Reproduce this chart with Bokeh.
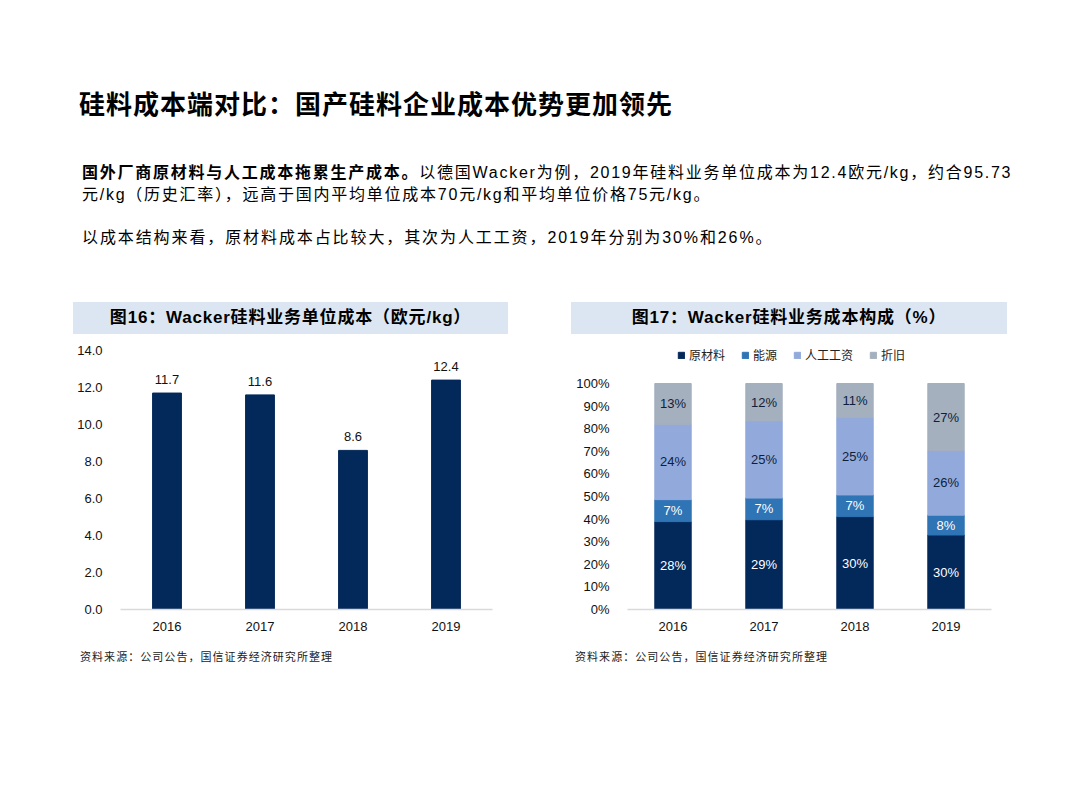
from bokeh.plotting import figure
from bokeh.models import (ColumnDataSource, Div, Legend, LegendItem, FactorRange,
                          Range1d, NumeralTickFormatter, FixedTicker)
from bokeh.layouts import column, row
from bokeh.embed import file_html
from bokeh.resources import INLINE
from bokeh.core.properties import value

# ---------------- data ----------------
years = ["2016", "2017", "2018", "2019"]
unit_cost = [11.7, 11.6, 8.6, 12.4]
cost_labels = ["11.7", "11.6", "8.6", "12.4"]
left_ticks = [0, 2, 4, 6, 8, 10, 12, 14]

series_names = ["原材料", "能源", "人工工资", "折旧"]
raw_material = [28, 29, 30, 30]
energy = [7, 7, 7, 8]
labor = [24, 25, 25, 26]
depreciation = [13, 12, 11, 27]
pct_ticks = [0, 0.1, 0.2, 0.3, 0.4, 0.5, 0.6, 0.7, 0.8, 0.9, 1.0]

title_text = "硅料成本端对比：国产硅料企业成本优势更加领先"
para1_bold = "国外厂商原材料与人工成本拖累生产成本。"
para1_rest_a = "以德国Wacker为例，2019年硅料业务单位成本为12.4欧元/kg，约合95.73"
para1_rest_b = "元/kg（历史汇率），远高于国内平均单位成本70元/kg和平均单位价格75元/kg。"
para2 = "以成本结构来看，原材料成本占比较大，其次为人工工资，2019年分别为30%和26%。"
chart1_title = "图16：Wacker硅料业务单位成本（欧元/kg）"
chart2_title = "图17：Wacker硅料业务成本构成（%）"
source_note = "资料来源：公司公告，国信证券经济研究所整理"

# ---------------- styles ----------------
NAVY = "#03285a"
ENERGY = "#2f74b5"
LABOR = "#92a9db"
DEPR = "#a4b0be"
BAND = "#dce6f2"
LATIN = "Liberation Sans"
FONT_STACK = "'Liberation Sans','Noto Sans CJK SC',sans-serif"

# ---------------- header ----------------
header_html = f"""
<div style="position:relative;width:1064px;height:294px;font-family:{FONT_STACK};color:#000;">
  <div style="position:absolute;left:71px;top:79px;font-size:26px;line-height:32px;font-weight:bold;
       font-family:'Noto Sans CJK SC',sans-serif;letter-spacing:1px;white-space:nowrap;">{title_text}</div>
  <div style="position:absolute;left:74px;top:154px;font-size:16px;line-height:22px;white-space:nowrap;letter-spacing:1.75px;">
    <b>{para1_bold}</b>{para1_rest_a}<br>{para1_rest_b}</div>
  <div style="position:absolute;left:74px;top:219px;font-size:16px;line-height:22px;white-space:nowrap;letter-spacing:1.9px;">{para2}</div>
</div>
"""
header = Div(text=header_html, width=1064, height=294, margin=(0, 0, 0, 0))


def band(text, w, ml):
    html = (f'<div style="width:{w}px;height:32px;background:{BAND};text-align:center;'
            f'line-height:32px;font-weight:bold;font-size:17px;letter-spacing:0.8px;font-family:{FONT_STACK};'
            f'color:#000;white-space:nowrap;">{text}</div>')
    return Div(text=html, width=w, height=32, margin=(0, 0, 0, ml))


def note(ml):
    html = (f'<div style="padding-top:7px;font-size:11px;line-height:20px;letter-spacing:1.05px;'
            f'font-family:\'Noto Sans CJK SC\',serif;color:#222;white-space:nowrap;">{source_note}</div>')
    return Div(text=html, width=420, height=30, margin=(0, 0, 0, ml))


def style_axes(p):
    p.xgrid.grid_line_color = None
    p.ygrid.grid_line_color = None
    p.outline_line_color = None
    p.background_fill_color = "white"
    for ax in (p.xaxis, p.yaxis):
        ax.major_tick_line_color = None
        ax.minor_tick_line_color = None
        ax.major_label_text_font = LATIN
        ax.major_label_text_font_size = "13px"
        ax.major_label_text_color = "#111111"
    p.yaxis.axis_line_color = None
    p.xaxis.axis_line_color = "#d9d9d9"
    p.xaxis.axis_line_width = 1.5
    p.yaxis.major_label_standoff = 12
    p.xaxis.major_label_standoff = 6


# ---------------- left chart ----------------
src1 = ColumnDataSource(dict(year=years, cost=unit_cost, label=cost_labels))
p1 = figure(x_range=FactorRange(*years), y_range=Range1d(0, 14),
            width=450, height=305, output_backend="svg", toolbar_location=None,
            min_border_left=47, min_border_right=31, min_border_top=16, min_border_bottom=30,
            margin=(0, 0, 0, 65))
p1.vbar(x="year", top="cost", width=0.31, color=NAVY, source=src1)
p1.text(x="year", y="cost", text="label", source=src1, text_align="center",
        text_baseline="bottom", y_offset=-9, text_font=value(LATIN),
        text_font_size="13px", text_color="#111111")
style_axes(p1)
p1.yaxis.ticker = FixedTicker(ticks=left_ticks)
p1.yaxis.formatter = NumeralTickFormatter(format="0.0")

# ---------------- right chart ----------------
stacks = [raw_material, energy, labor, depreciation]
totals = [sum(v) for v in zip(*stacks)]
fracs = [[v / t for v, t in zip(s, totals)] for s in stacks]
keys = ["s0", "s1", "s2", "s3"]
data2 = dict(year=years)
for k, f in zip(keys, fracs):
    data2[k] = f
src2 = ColumnDataSource(data2)

# frame is taller than the 0-100% band so the legend can sit inside it, above 100%
frame_h = 269
pct_px = 226
p2 = figure(x_range=FactorRange(*years), y_range=Range1d(0, frame_h / pct_px),
            width=436, height=305, output_backend="svg", toolbar_location=None,
            min_border_left=56, min_border_right=16, min_border_top=305 - 30 - frame_h,
            min_border_bottom=30, margin=(0, 0, 0, 48))
colors = [NAVY, ENERGY, LABOR, DEPR]
rends = p2.vbar_stack(keys, x="year", width=0.4, color=colors, source=src2)

lab_x, lab_y, lab_t, lab_c = [], [], [], []
text_colors = ["#ffffff", "#ffffff", "#0d1f3c", "#0d1f3c"]
for i, y in enumerate(years):
    base = 0.0
    for j in range(4):
        f = fracs[j][i]
        lab_x.append(y)
        lab_y.append(base + f / 2)
        lab_t.append(f"{stacks[j][i]}%")
        lab_c.append(text_colors[j])
        base += f
src_lab = ColumnDataSource(dict(x=lab_x, y=lab_y, t=lab_t, c=lab_c))
p2.text(x="x", y="y", text="t", text_color="c", source=src_lab, text_align="center",
        text_baseline="middle", text_font=value(LATIN), text_font_size="13px")
style_axes(p2)
p2.yaxis.ticker = FixedTicker(ticks=pct_ticks)
p2.yaxis.formatter = NumeralTickFormatter(format="0%")

legend = Legend(items=[LegendItem(label=n, renderers=[r]) for n, r in zip(series_names, rends)],
                orientation="horizontal", location=(50, 246),
                label_text_font="Noto Sans CJK SC", label_text_font_size="12px",
                label_text_color="#222222", glyph_width=8, glyph_height=8,
                label_standoff=4, spacing=16, padding=4, margin=0,
                border_line_color=None, background_fill_alpha=0)
p2.add_layout(legend, "center")

left = column(band(chart1_title, 435, 65), p1, note(72))
right = column(band(chart2_title, 436, 48), p2, note(52))
layout = column(header, row(left, right), margin=(8, 8, 8, 8))

open("out.html", "w").write(file_html(layout, INLINE))
